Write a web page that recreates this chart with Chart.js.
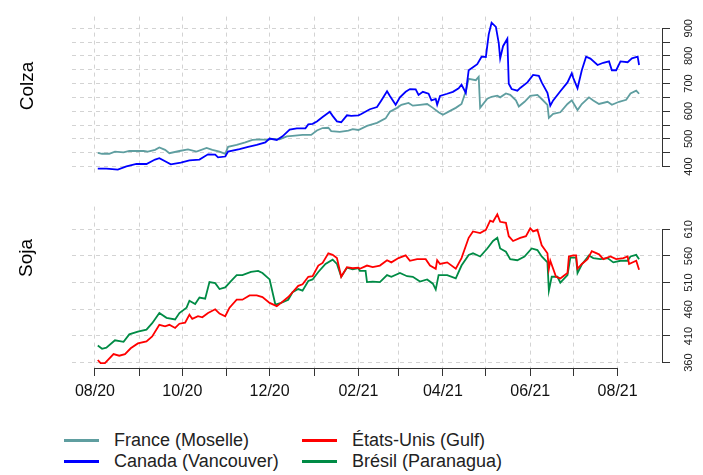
<!DOCTYPE html>
<html><head><meta charset="utf-8">
<script src="https://cdn.jsdelivr.net/npm/chart.js@4.4.1/dist/chart.umd.min.js"></script>
<style>
html,body{margin:0;padding:0;background:#fff;}
#wrap{position:relative;width:703px;height:475px;overflow:hidden;font-family:'Liberation Sans',Arial,sans-serif;}
canvas{position:absolute;left:0;}
#c1{top:0;}
#c2{top:190px;}
.ttl{position:absolute;font-size:19px;color:#000;transform:translate(-50%,-50%) rotate(-90deg);white-space:nowrap;line-height:1;}
.legtxt{position:absolute;font-size:18px;color:#222;line-height:22px;white-space:nowrap;}
.sw{position:absolute;height:3px;width:35px;}
</style></head>
<body><div id="wrap">
<canvas id="c1" width="703" height="190"></canvas>
<canvas id="c2" width="703" height="220"></canvas>
<div class="ttl" style="left:26px;top:86px">Colza</div>
<div class="ttl" style="left:25px;top:258px">Soja</div>
<div id="legend"></div>
</div>
<script>
// ---------- DATA ----------
const seriesNames  = ['France (Moselle)', 'Canada (Vancouver)', 'États-Unis (Gulf)', 'Brésil (Paranagua)'];
const seriesColors = ['#5F9EA0', '#0000FF', '#FF0000', '#008B45'];
const panelTitles  = ['Colza', 'Soja'];

const xRange      = ['2020-07-16', '2021-09-01'];
const monthTicks  = ['2020-08-01','2020-09-01','2020-10-01','2020-11-01','2020-12-01','2021-01-01','2021-02-01','2021-03-01','2021-04-01','2021-05-01','2021-06-01','2021-07-01','2021-08-01'];
const monthLabels = ['08/20','','10/20','','12/20','','02/21','','04/21','','06/21','','08/21'];

const colzaRange      = [375, 942];
const colzaTicks      = [400,450,500,550,600,650,700,750,800,850,900];
const colzaTickLabels = ['400','','500','','600','','700','','800','','900'];
const sojaRange       = [350, 652.5];
const sojaTicks       = [360,410,460,510,560,610];
const sojaTickLabels  = ['360','410','460','510','560','610'];

const canadaDates = ['2020-08-03','2020-08-09','2020-08-17','2020-08-23','2020-08-30','2020-09-06','2020-09-12','2020-09-15','2020-09-20','2020-09-23','2020-09-30','2020-10-06','2020-10-13','2020-10-19','2020-10-24','2020-10-26','2020-10-31','2020-11-02','2020-11-10','2020-11-16','2020-11-22','2020-11-28','2020-12-01','2020-12-06','2020-12-10','2020-12-15','2020-12-20','2020-12-26','2020-12-28','2020-12-31','2021-01-03','2021-01-07','2021-01-12','2021-01-14','2021-01-17','2021-01-20','2021-01-24','2021-01-27','2021-02-01','2021-02-03','2021-02-09','2021-02-14','2021-02-17','2021-02-21','2021-02-23','2021-02-27','2021-03-02','2021-03-06','2021-03-09','2021-03-13','2021-03-15','2021-03-18','2021-03-22','2021-03-24','2021-03-27','2021-03-28','2021-03-30','2021-04-04','2021-04-08','2021-04-12','2021-04-14','2021-04-17','2021-04-19','2021-04-22','2021-04-25','2021-04-28','2021-05-01','2021-05-03','2021-05-05','2021-05-08','2021-05-10','2021-05-11','2021-05-13','2021-05-16','2021-05-17','2021-05-19','2021-05-23','2021-05-25','2021-05-30','2021-06-03','2021-06-07','2021-06-09','2021-06-13','2021-06-15','2021-06-17','2021-06-22','2021-06-27','2021-06-30','2021-07-01','2021-07-04','2021-07-07','2021-07-10','2021-07-13','2021-07-18','2021-07-22','2021-07-26','2021-07-28','2021-07-31','2021-08-03','2021-08-08','2021-08-11','2021-08-15','2021-08-16'];
const canadaPrices = [392,392,389,400,409,409,425,430,416,408,414,422,425,444,443,433,436,454,463,471,478,487,501,496,509,533,538,538,552,554,563,579,598,583,563,560,585,583,585,590,607,615,639,672,655,623,650,670,680,679,659,670,663,639,644,623,655,663,670,683,696,666,748,759,770,797,796,878,920,905,846,791,835,862,699,680,674,684,704,731,728,704,666,620,639,672,704,737,721,683,748,797,790,767,775,780,748,748,780,777,791,797,767];

const franceDates = ['2020-08-03','2020-08-06','2020-08-11','2020-08-15','2020-08-21','2020-08-25','2020-09-04','2020-09-07','2020-09-12','2020-09-15','2020-09-19','2020-09-22','2020-09-29','2020-10-05','2020-10-11','2020-10-18','2020-10-22','2020-10-27','2020-10-31','2020-11-02','2020-11-08','2020-11-14','2020-11-19','2020-11-24','2020-11-29','2020-12-03','2020-12-08','2020-12-13','2020-12-17','2020-12-24','2020-12-30','2021-01-03','2021-01-07','2021-01-11','2021-01-13','2021-01-19','2021-01-25','2021-01-28','2021-02-01','2021-02-07','2021-02-14','2021-02-20','2021-02-23','2021-02-28','2021-03-03','2021-03-08','2021-03-11','2021-03-16','2021-03-21','2021-03-25','2021-03-29','2021-04-01','2021-04-06','2021-04-10','2021-04-14','2021-04-17','2021-04-19','2021-04-24','2021-04-26','2021-04-27','2021-05-02','2021-05-05','2021-05-09','2021-05-11','2021-05-15','2021-05-18','2021-05-22','2021-05-24','2021-05-28','2021-06-01','2021-06-06','2021-06-09','2021-06-13','2021-06-14','2021-06-17','2021-06-22','2021-06-27','2021-06-30','2021-07-04','2021-07-07','2021-07-12','2021-07-15','2021-07-19','2021-07-25','2021-07-28','2021-08-02','2021-08-07','2021-08-10','2021-08-14','2021-08-16'];
const francePrices = [449,446,446,454,451,456,456,454,460,469,460,448,456,462,454,467,460,454,446,471,478,487,496,498,496,500,498,509,511,514,514,530,539,540,528,525,530,535,532,547,558,574,598,612,623,630,620,623,626,612,596,587,601,612,626,672,717,712,724,612,645,652,656,650,664,659,639,617,634,655,659,644,623,576,590,596,626,639,604,626,650,639,626,634,623,634,641,664,674,663];

const usaDates = ['2020-08-03','2020-08-05','2020-08-08','2020-08-14','2020-08-18','2020-08-22','2020-08-26','2020-08-31','2020-09-06','2020-09-10','2020-09-15','2020-09-19','2020-09-22','2020-09-26','2020-09-29','2020-10-03','2020-10-06','2020-10-08','2020-10-12','2020-10-15','2020-10-19','2020-10-24','2020-10-27','2020-10-31','2020-11-03','2020-11-08','2020-11-12','2020-11-17','2020-11-22','2020-11-26','2020-12-01','2020-12-06','2020-12-09','2020-12-14','2020-12-17','2020-12-21','2020-12-24','2020-12-28','2020-12-31','2021-01-04','2021-01-07','2021-01-11','2021-01-14','2021-01-17','2021-01-20','2021-01-24','2021-01-28','2021-02-01','2021-02-02','2021-02-07','2021-02-11','2021-02-16','2021-02-21','2021-02-24','2021-03-01','2021-03-06','2021-03-09','2021-03-14','2021-03-20','2021-03-23','2021-03-27','2021-03-28','2021-03-30','2021-04-04','2021-04-10','2021-04-14','2021-04-19','2021-04-22','2021-04-27','2021-05-01','2021-05-04','2021-05-06','2021-05-09','2021-05-11','2021-05-15','2021-05-17','2021-05-20','2021-05-25','2021-05-29','2021-06-01','2021-06-03','2021-06-06','2021-06-09','2021-06-13','2021-06-14','2021-06-15','2021-06-19','2021-06-22','2021-06-24','2021-06-27','2021-06-28','2021-07-01','2021-07-03','2021-07-04','2021-07-07','2021-07-11','2021-07-14','2021-07-19','2021-07-22','2021-07-27','2021-07-31','2021-08-05','2021-08-08','2021-08-09','2021-08-14','2021-08-16'];
const usaPrices = [365,359,359,376,373,376,387,396,400,409,431,428,431,425,433,435,450,442,447,445,453,460,452,447,463,478,478,486,486,483,472,466,472,483,492,504,507,521,522,542,547,565,562,556,521,539,537,538,536,542,539,542,552,548,556,561,551,554,554,542,536,552,545,548,536,556,594,606,603,609,626,624,638,624,622,597,588,594,597,612,606,609,580,565,536,551,521,518,522,528,559,561,561,536,545,554,569,563,554,559,554,556,559,545,551,534];

const bresilDates = ['2020-08-03','2020-08-06','2020-08-09','2020-08-15','2020-08-21','2020-08-25','2020-08-31','2020-09-06','2020-09-10','2020-09-15','2020-09-20','2020-09-26','2020-09-29','2020-10-04','2020-10-06','2020-10-10','2020-10-13','2020-10-17','2020-10-20','2020-10-24','2020-10-27','2020-10-31','2020-11-04','2020-11-08','2020-11-12','2020-11-18','2020-11-23','2020-11-26','2020-12-01','2020-12-05','2020-12-09','2020-12-14','2020-12-17','2020-12-21','2020-12-24','2020-12-28','2020-12-31','2021-01-04','2021-01-09','2021-01-14','2021-01-17','2021-01-20','2021-01-24','2021-01-28','2021-02-01','2021-02-02','2021-02-06','2021-02-07','2021-02-11','2021-02-16','2021-02-21','2021-02-24','2021-03-02','2021-03-07','2021-03-11','2021-03-16','2021-03-21','2021-03-25','2021-03-27','2021-03-29','2021-04-04','2021-04-10','2021-04-14','2021-04-19','2021-04-22','2021-04-27','2021-05-02','2021-05-06','2021-05-09','2021-05-11','2021-05-15','2021-05-18','2021-05-23','2021-05-28','2021-06-02','2021-06-06','2021-06-09','2021-06-13','2021-06-14','2021-06-16','2021-06-20','2021-06-22','2021-06-27','2021-06-29','2021-07-03','2021-07-04','2021-07-07','2021-07-12','2021-07-15','2021-07-20','2021-07-25','2021-07-29','2021-08-03','2021-08-08','2021-08-10','2021-08-14','2021-08-16'];
const bresilPrices = [392,386,388,402,399,413,418,422,434,453,444,441,453,463,476,470,482,480,511,509,498,501,513,524,524,530,532,528,516,469,472,478,492,498,495,513,516,530,545,553,545,521,538,535,537,532,532,511,512,511,524,521,528,522,521,512,516,508,497,524,524,518,542,562,565,559,574,588,594,574,568,554,552,559,574,571,559,548,495,521,521,510,524,557,557,528,544,561,556,554,556,548,551,551,559,562,554];

// ---------- HELPERS ----------
const toX = s => Date.parse(s + 'T00:00:00Z');
const pts = (dates, vals) => dates.map((d, i) => ({ x: toX(d), y: vals[i] }));
const FONT = 'Liberation Sans';
const gridColor = '#d3d3d3';
const axisColor = '#333333';

const axisLinePlugin = {
  id: 'axisLine',
  afterDraw(chart, args, opts) {
    const ctx = chart.ctx;
    ctx.save();
    ctx.strokeStyle = opts.color || '#333';
    ctx.lineWidth = 1;
    (opts.ids || []).forEach(id => {
      const s = chart.scales[id];
      if (!s || !s.ticks.length) return;
      const a = s.getPixelForValue(s.ticks[0].value);
      const b = s.getPixelForValue(s.ticks[s.ticks.length - 1].value);
      ctx.beginPath();
      if (s.isHorizontal()) {
        const y = Math.round(s.top) + 0.5;
        ctx.moveTo(a, y); ctx.lineTo(b, y);
      } else {
        const x = Math.round(s.left) + 0.5;
        ctx.moveTo(x, a); ctx.lineTo(x, b);
      }
      ctx.stroke();
    });
    ctx.restore();
  }
};

function xScale(showLabels) {
  return {
    type: 'linear', min: toX(xRange[0]), max: toX(xRange[1]),
    afterBuildTicks: s => { s.ticks = monthTicks.map(d => ({ value: toX(d) })); },
    grid: { color: gridColor, lineWidth: 1, drawTicks: showLabels, tickLength: 8, tickColor: axisColor },
    border: { display: false, dash: [4, 4] },
    ticks: { display: showLabels, autoSkip: false, minRotation: 0, maxRotation: 0, padding: 6,
             color: '#111', font: { family: FONT, size: 16 }, callback: (v, i) => monthLabels[i] },
    afterFit: s => { s.height = showLabels ? 42 : 0; }
  };
}
function yScale(range, tickVals, tickLabels) {
  return {
    type: 'linear', position: 'right', min: range[0], max: range[1],
    afterBuildTicks: s => { s.ticks = tickVals.map(v => ({ value: v })); },
    grid: { color: gridColor, lineWidth: 1, drawTicks: true, tickLength: 8, tickColor: axisColor },
    border: { display: false, dash: [4, 4] },
    ticks: { autoSkip: false, minRotation: 90, maxRotation: 90, crossAlign: 'center', padding: 10,
             color: '#222', font: { family: FONT, size: 11 }, callback: (v, i) => tickLabels[i] },
    afterFit: s => { s.width = 41; }
  };
}
function lineDs(idx, dates, vals) {
  return { label: seriesNames[idx], data: pts(dates, vals), borderColor: seriesColors[idx],
           backgroundColor: seriesColors[idx], borderWidth: 1.8, pointRadius: 0, tension: 0, fill: false };
}
function baseOptions(padding, xIds) {
  return {
    responsive: false, animation: false, devicePixelRatio: 1, events: [],
    layout: { padding },
    plugins: { legend: { display: false }, tooltip: { enabled: false }, axisLine: { ids: xIds, color: axisColor } },
  };
}

// ---------- TOP PANEL : Colza ----------
const o1 = baseOptions({ left: 72, top: 7, right: 0, bottom: 9 }, ['y']);
o1.scales = { x: xScale(false), y: yScale(colzaRange, colzaTicks, colzaTickLabels) };
new Chart(document.getElementById('c1'), {
  type: 'line',
  data: { datasets: [ lineDs(1, canadaDates, canadaPrices), lineDs(0, franceDates, francePrices) ] },
  options: o1,
  plugins: [axisLinePlugin]
});

// ---------- BOTTOM PANEL : Soja ----------
const o2 = baseOptions({ left: 72, top: 5, right: 0, bottom: 0 }, ['x', 'y']);
o2.scales = { x: xScale(true), y: yScale(sojaRange, sojaTicks, sojaTickLabels) };
new Chart(document.getElementById('c2'), {
  type: 'line',
  data: { datasets: [ lineDs(2, usaDates, usaPrices), lineDs(3, bresilDates, bresilPrices) ] },
  options: o2,
  plugins: [axisLinePlugin]
});

// ---------- LEGEND (HTML) ----------
const leg = document.getElementById('legend');
const colSwatchX = [64, 302], colTextX = [114, 352], rowY = [440, 461];
seriesNames.forEach((name, i) => {
  const c = i < 2 ? 0 : 1, r = i % 2;
  const sw = document.createElement('div');
  sw.className = 'sw';
  sw.style.left = colSwatchX[c] + 'px';
  sw.style.top = (rowY[r] - 1.5) + 'px';
  sw.style.background = seriesColors[i];
  leg.appendChild(sw);
  const t = document.createElement('div');
  t.className = 'legtxt';
  t.style.left = colTextX[c] + 'px';
  t.style.top = (rowY[r] - 11) + 'px';
  t.textContent = name;
  leg.appendChild(t);
});
</script>
</body></html>
